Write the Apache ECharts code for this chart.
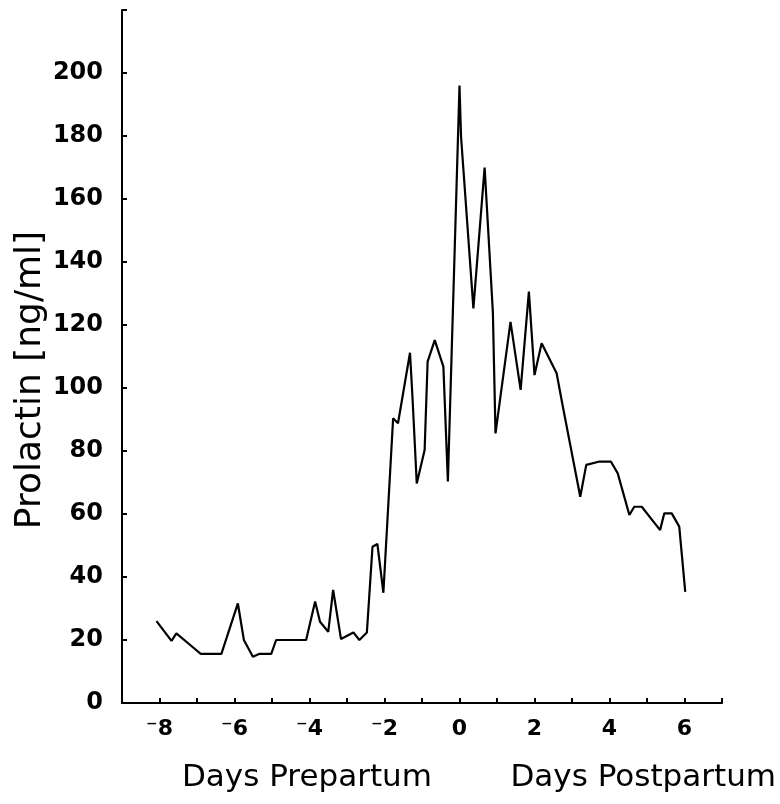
<!DOCTYPE html>
<html>
<head>
<meta charset="utf-8">
<script src="https://cdn.jsdelivr.net/npm/echarts@6/dist/echarts.min.js"></script>
<style>
    html, body { margin: 0; padding: 0; background: #fff; }
    #main { width: 780px; height: 804px; }
</style>
</head>
<body>
<div id="main"></div>
<script>
// days relative to parturition
var days = [-8.08, -7.68, -7.55, -7.15, -6.9, -6.35, -5.91, -5.75, -5.51, -5.33,
    -5.02, -4.89, -4.09, -3.85, -3.72, -3.5, -3.37, -3.16, -2.83, -2.67,
    -2.47, -2.32, -2.19, -2.03, -1.77, -1.64, -1.32, -1.25, -1.14, -0.93,
    -0.85, -0.66, -0.43, -0.31, 0, 0.04, 0.37, 0.67, 0.89, 0.96,
    1.36, 1.63, 1.85, 2.0, 2.19, 2.59, 2.74, 3.22, 3.38, 3.71,
    4.04, 4.22, 4.53, 4.66, 4.86, 5.35, 5.46, 5.66, 5.86, 6.02];
// prolactin ng/ml
var prolactin = [26, 19.7, 22.1, 18.1, 15.6, 15.6, 31.6, 20, 14.7, 15.6,
    15.6, 20, 20, 32.2, 25.8, 22.6, 35.9, 20.3, 22.4, 20,
    22.4, 49.6, 50.5, 35, 90.4, 88.8, 111.2, 96.2, 69.7, 80.3,
    108.4, 115.2, 106.8, 70.3, 196, 180, 125.3, 170, 124, 85.6,
    121, 99.4, 130.6, 104.1, 114.2, 104.7, 95.1, 65.5, 75.6, 76.6,
    76.6, 72.9, 59.7, 62.3, 62.3, 54.9, 60.2, 60.2, 56, 35.3];
var xTickLabels = [-8, -6, -4, -2, 0, 2, 4, 6];
var yTickLabels = [0, 20, 40, 60, 80, 100, 120, 140, 160, 180, 200];

var myChart = echarts.init(document.getElementById('main'));
var font = '"DejaVu Sans", sans-serif';

var option = {
    backgroundColor: '#fff',
    animation: false,
    grid: {
        left: 122,
        right: 58,
        top: 10,
        bottom: 101
    },
    xAxis: {
        type: 'value',
        min: -9,
        max: 7,
        interval: 1,
        splitLine: { show: false },
        axisLine: { onZero: false, lineStyle: { color: '#000', width: 2 } },
        axisTick: { inside: true, length: 5, lineStyle: { color: '#000', width: 2 } },
        axisLabel: {
            margin: 15,
            color: '#000',
            fontSize: 22,
            fontWeight: 'bold',
            fontFamily: font,
            formatter: function (v) {
                if (xTickLabels.indexOf(v) < 0) return '';
                return v < 0 ? '\u207B' + (-v) : '' + v; // raised minus like the original
            }
        }
    },
    yAxis: {
        type: 'value',
        min: 0,
        max: 220,
        interval: 20,
        splitLine: { show: false },
        axisLine: { onZero: false, lineStyle: { color: '#000', width: 2 } },
        axisTick: { inside: true, length: 5, lineStyle: { color: '#000', width: 2 } },
        axisLabel: {
            margin: 19,
            color: '#000',
            fontSize: 24,
            fontWeight: 'bold',
            fontFamily: font,
            formatter: function (v) {
                return yTickLabels.indexOf(v) < 0 ? '' : '' + v;
            }
        }
    },
    graphic: [
        {
            type: 'text',
            x: 31,
            y: 380,
            rotation: Math.PI / 2,
            style: {
                text: 'Prolactin [ng/ml]',
                fontSize: 36,
                fontFamily: font,
                fill: '#000',
                textAlign: 'center',
                textVerticalAlign: 'middle'
            }
        },
        {
            type: 'text',
            x: 182,
            y: 778,
            style: {
                text: 'Days Prepartum',
                fontSize: 31,
                fontFamily: font,
                fill: '#000',
                textAlign: 'left',
                textVerticalAlign: 'middle'
            }
        },
        {
            type: 'text',
            x: 776,
            y: 778,
            style: {
                text: 'Days Postpartum',
                fontSize: 31,
                fontFamily: font,
                fill: '#000',
                textAlign: 'right',
                textVerticalAlign: 'middle'
            }
        }
    ],
    series: [
        {
            type: 'line',
            data: days.map(function (d, i) { return [d, prolactin[i]]; }),
            symbol: 'none',
            lineStyle: { color: '#000', width: 2.2 }
        }
    ]
};

myChart.setOption(option);
window.addEventListener("resize", function () {
    myChart.resize();
});
</script>
</body>
</html>
